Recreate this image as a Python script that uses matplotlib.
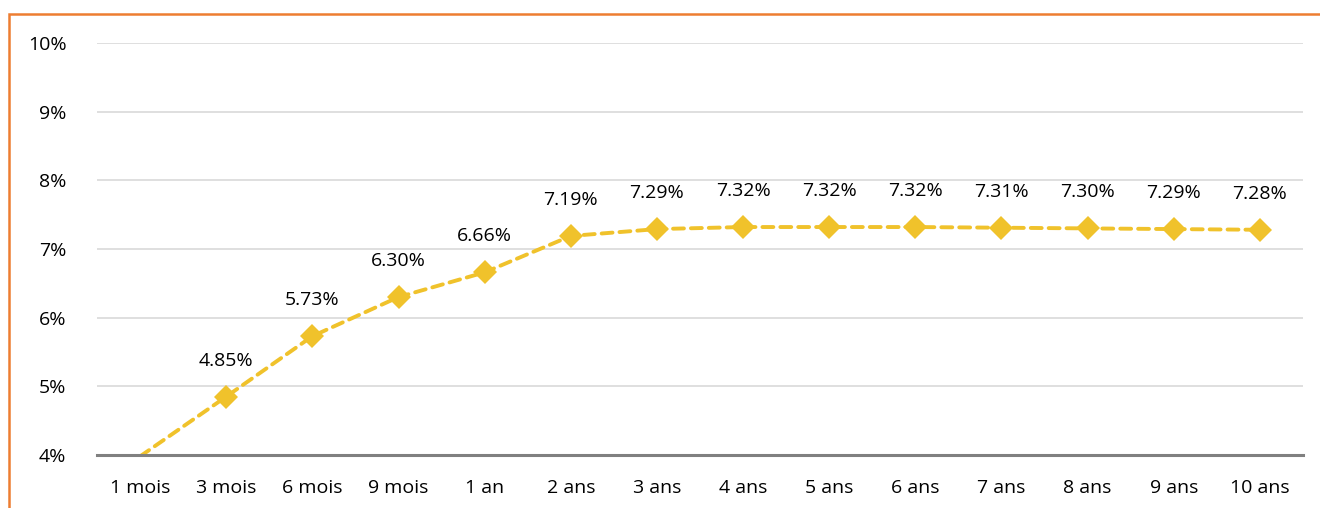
import matplotlib.pyplot as plt
from matplotlib.patches import Rectangle
from matplotlib.ticker import FuncFormatter

plt.rcParams['font.family'] = ['Open Sans', 'DejaVu Sans']

maturites = ["1 mois", "3 mois", "6 mois", "9 mois", "1 an", "2 ans", "3 ans",
             "4 ans", "5 ans", "6 ans", "7 ans", "8 ans", "9 ans", "10 ans"]
taux = [3.98, 4.85, 5.73, 6.30, 6.66, 7.19, 7.29, 7.32, 7.32, 7.32, 7.31, 7.30, 7.29, 7.28]
# 1 mois est sous l'axe (hors echelle), pas d'etiquette
etiquettes = [None, "4.85%", "5.73%", "6.30%", "6.66%", "7.19%", "7.29%", "7.32%",
              "7.32%", "7.32%", "7.31%", "7.30%", "7.29%", "7.28%"]

jaune = "#F0C22B"
orange = "#ED7D31"

fig = plt.figure(figsize=(13.2, 5.08), dpi=100)
ax = fig.add_axes([97/1320, 1-455/508, (1303-97)/1320, (455-43)/508])

x = list(range(len(maturites)))
ax.plot(x, taux, color=jaune, lw=2.8, linestyle=(0, (2.8, 1.8)),
        dash_capstyle='round', marker='D', markersize=12.5, markeredgewidth=0,
        markerfacecolor=jaune, markevery=list(range(1, len(x))), zorder=3)

for xi, yi, lab in zip(x, taux, etiquettes):
    if lab is None:
        continue
    ax.annotate(lab, (xi, yi), xytext=(0, 26), textcoords='offset points',
                ha='center', va='center', fontsize=14, color='#000000')

ax.set_xlim(-0.5, len(maturites) - 0.5)
ax.set_ylim(4, 10)
ax.set_xticks(x)
ax.set_xticklabels(maturites)
ax.set_yticks(range(4, 11))
ax.yaxis.set_major_formatter(FuncFormatter(lambda v, p: f"{int(v)}%"))
ax.tick_params(axis='both', length=0, labelsize=14, labelcolor='#000000')
ax.tick_params(axis='x', pad=17)
ax.tick_params(axis='y', pad=22)

ax.grid(axis='y', color='#d9d9d9', lw=1.2)
ax.set_axisbelow(True)
for s in ['top', 'right', 'left']:
    ax.spines[s].set_visible(False)
ax.spines['bottom'].set_color('#808080')
ax.spines['bottom'].set_linewidth(2.2)
ax.spines['bottom'].set_zorder(4)

# cadre orange (gauche et haut)
fig.patches.append(Rectangle((9/1320, -0.1), 1.2, 1.1 - 14/508,
                             transform=fig.transFigure, fill=False,
                             edgecolor=orange, lw=1.8))

fig.savefig("out.png", dpi=100)
